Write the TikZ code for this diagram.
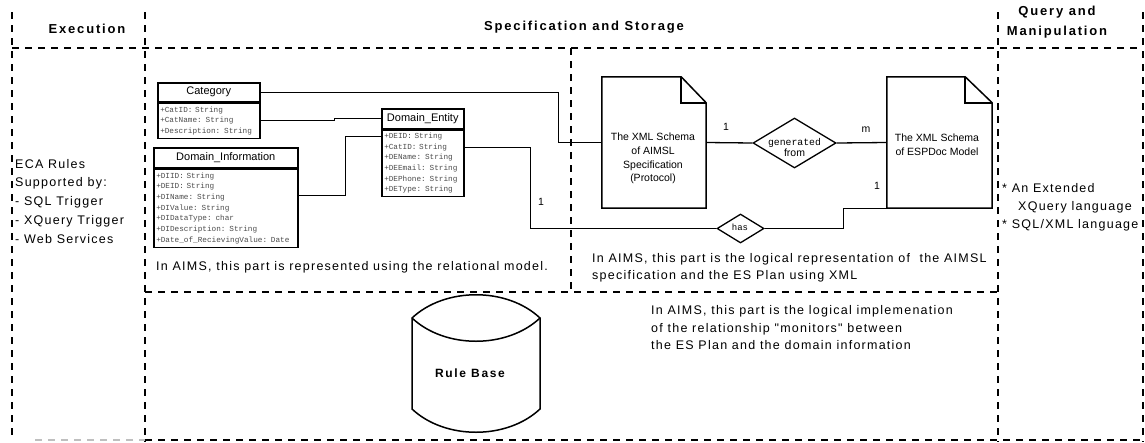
\documentclass[tikz,border=0pt]{standalone}
\usepackage{fontspec}
\setmainfont{Liberation Sans}
\newfontfamily\spacedsans[LetterSpace=10]{Liberation Sans}
\newfontfamily\widesans[LetterSpace=14]{Liberation Sans}
\newfontfamily\monofam{Liberation Mono}
\usetikzlibrary{shapes.geometric}

% font shortcuts
\newcommand\zonehead{\widesans\bfseries\fontsize{13}{20}\selectfont}
\newcommand\attrtext{\monofam\fontsize{7.7}{10.7}\selectfont}
\newcommand\titletext{\fontsize{11}{13}\selectfont}
\newcommand\doctext{\fontsize{10.5}{13.7}\selectfont}
\newcommand\reltext{\monofam\fontsize{9.8}{12}\selectfont}
\newcommand\cardtext{\fontsize{10.5}{12}\selectfont}

\begin{document}
\begin{tikzpicture}[x=1pt,y=-1pt,
  zone/.style={line width=2pt, dash pattern=on 7pt off 6pt},
  ln/.style={line width=1.3pt},
  outline/.style={line width=1.5pt},
  classhead/.style={draw, line width=1.5pt, anchor=north west, inner sep=0pt, font=\titletext},
  classbody/.style={draw, line width=1.5pt, anchor=north west, inner xsep=2.5pt, inner ysep=0pt,
    align=left, text=black!70, font=\attrtext},
  docframe/.style={inner sep=0pt},
  relbox/.style={diamond, draw, line width=1.3pt, inner sep=0pt},
  card/.style={inner sep=0pt, font=\cardtext},
  note/.style={inner sep=0pt, align=left, anchor=west}]

\fill[white] (0,0) rectangle (1145,442);
\useasboundingbox (0,0) rectangle (1145,442);

% zone boundaries
\draw[zone] (12,12) -- (12,438);
\draw[zone] (145,12) -- (145,442);
\draw[zone] (998,12) -- (998,442);
\draw[zone] (1143,12) -- (1143,442);
\draw[zone] (12,48) -- (1143,48);
\draw[zone] (571,48) -- (571,292);
\draw[zone] (145,292) -- (998,292);
\draw[zone] (145,440) -- (1143,440);
\draw[zone, black!25] (35,440) -- (145,440);

% zone headings
\node[font=\zonehead] (hexec) at (87,29) {Execution};
\node[font=\zonehead] (hspec) at (584,27) {Specification and Storage};
\node[font=\zonehead, align=center] (hquery) at (1057,22) {Query and\\Manipulation};

% execution column
\node[note, anchor=north west, font=\spacedsans\fontsize{12.5}{18.7}\selectfont] (eca) at (15,159)
  {ECA Rules\\Supported by:\\- SQL Trigger\\- XQuery Trigger\\- Web Services};

% query column
\node[note, anchor=north west, font=\spacedsans\fontsize{12.5}{18.3}\selectfont] (qry) at (1002,183)
  {* An Extended\\\hspace*{16pt}XQuery language\\* SQL/XML language};

% relational classes
\node[classhead, minimum width=102pt, minimum height=19pt] (cat) at (157,82) {Category};
\node[classbody, text width=97pt, minimum height=35pt] (catb) at (cat.south west)
  {+CatID: String\\+CatName: String\\+Description: String};

\node[classhead, minimum width=144pt, minimum height=20pt] (di) at (153,147) {Domain\_Information};
\node[classbody, text width=139pt, minimum height=78pt] (dib) at (di.south west)
  {+DIID: String\\+DEID: String\\+DIName: String\\+DIValue: String\\+DIDataType: char\\+DIDescription: String\\+Date\_of\_RecievingValue: Date};

\node[classhead, minimum width=82pt, minimum height=20pt] (de) at (381,108) {Domain\_Entity};
\node[classbody, text width=77pt, minimum height=66pt] (deb) at (de.south west)
  {+DEID: String\\+CatID: String\\+DEName: String\\+DEEmail: String\\+DEPhone: String\\+DEType: String};

% XML schema documents
\node[docframe, minimum width=104pt, minimum height=131pt] (aimsl) at (654,142.5) {};
\draw[outline] (aimsl.south west) -- (aimsl.north west) -- ([xshift=-25pt]aimsl.north east)
  -- ([yshift=-26pt]aimsl.north east) -- (aimsl.south east) -- cycle;
\draw[outline] ([xshift=-25pt]aimsl.north east) -- ([xshift=-25pt,yshift=-26pt]aimsl.north east)
  -- ([yshift=-26pt]aimsl.north east);
\node[align=center, font=\doctext, inner sep=0pt] (aimsltxt) at (653,158.5)
  {The XML Schema\\of AIMSL\\Specification\\(Protocol)};

\node[docframe, minimum width=105pt, minimum height=131pt] (esp) at (939.5,142.5) {};
\draw[outline] (esp.south west) -- (esp.north west) -- ([xshift=-27pt]esp.north east)
  -- ([yshift=-26pt]esp.north east) -- (esp.south east) -- cycle;
\draw[outline] ([xshift=-27pt]esp.north east) -- ([xshift=-27pt,yshift=-26pt]esp.north east)
  -- ([yshift=-26pt]esp.north east);
\node[align=center, font=\doctext, inner sep=0pt] (esptxt) at (937,145)
  {The XML Schema\\of ESPDoc Model};

% relationships
\node[relbox, minimum width=83pt, minimum height=50pt] (gen) at (794.5,143) {};
\node[align=center, inner sep=0pt] (gentxt) at (794.5,147)
  {{\reltext generated}\\[-1pt]{\fontsize{10.5}{12}\selectfont from}};
\node[relbox, minimum width=47pt, minimum height=29pt] (has) at (740.5,228.5) {};
\node[inner sep=0pt, font=\monofam\fontsize{9}{10}\selectfont] (hastxt) at (740,227) {has};

% connectors
\draw[ln] (cat.east) -- ++(298,0) |- (aimsl.west);
\draw[ln] (catb.east) -- ++(74,0) |- (de.west);
\draw[ln] ([yshift=-27pt]dib.north east) -- ++(47,0) |- ([yshift=-7pt]deb.north west);
\draw[ln] ([yshift=-18pt]deb.north east) -- ++(66,0) |- (has.west);
\draw[ln] (has.east) -- ++(79,0) |- (esp.south west);
\draw[ln] (aimsl.east) -- (gen.west);
\draw[ln] (gen.east) -- (esp.west);

% cardinalities
\node[card] (c1) at (726,127) {1};
\node[card] (cm) at (866,130) {m};
\node[card] (c2) at (877,186) {1};
\node[card] (c3) at (541,202) {1};

% notes
\node[note, font=\spacedsans\fontsize{12.5}{16}\selectfont] (relnote) at (156,267)
  {In AIMS, this part is represented using the relational model.};
\node[note, anchor=north west, font=\spacedsans\fontsize{12.5}{17.5}\selectfont] (xmlnote) at (592,253)
  {In AIMS, this part is the logical representation of~ the AIMSL\\specification and the ES Plan using XML};
\node[note, anchor=north west, font=\spacedsans\fontsize{12.5}{17.8}\selectfont] (monnote) at (651,305)
  {In AIMS, this part is the logical implemenation\\of the relationship "monitors" between\\the ES Plan and the domain information};

% rule base store
\draw[outline] (412,318) .. controls (445,287) and (507,287) .. (540,318)
  -- (540,409) .. controls (507,440) and (445,440) .. (412,409) -- cycle;
\draw[outline] (412,318) .. controls (445,349) and (507,349) .. (540,318);
\node[font=\widesans\bfseries\fontsize{12}{14}\selectfont] (rb) at (470,373) {Rule Base};

\end{tikzpicture}
\end{document}
